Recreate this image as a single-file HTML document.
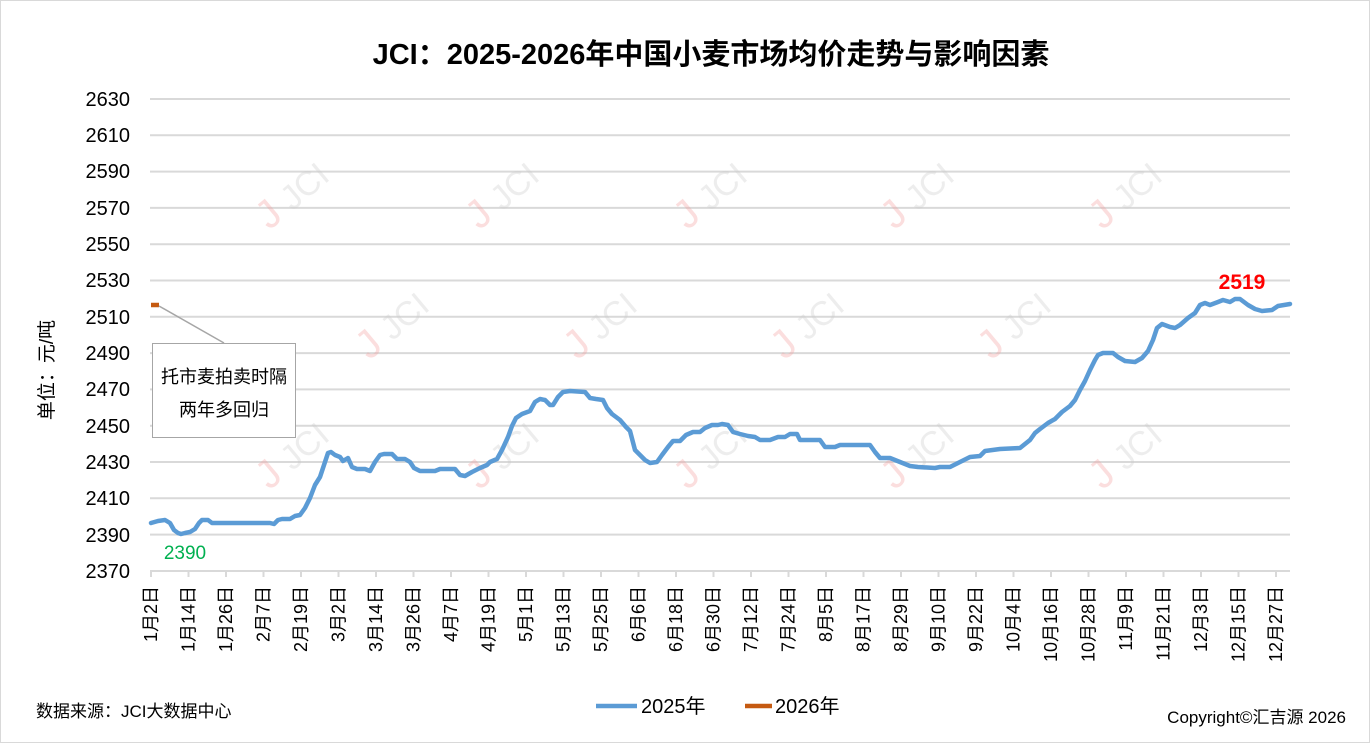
<!DOCTYPE html>
<html><head><meta charset="utf-8"><style>
body{margin:0;background:#fff;}
svg text{font-family:"Liberation Sans","Noto Sans CJK SC",sans-serif;}
</style></head><body>
<svg width="1370" height="743" xmlns="http://www.w3.org/2000/svg">
<rect x="0.5" y="0.5" width="1369" height="742" fill="#fff" stroke="#d9d9d9"/>
<text x="711" y="64" font-size="29" font-weight="bold" text-anchor="middle" fill="#000">JCI：2025-2026年中国小麦市场均价走势与影响因素</text>
<g stroke="#d9d9d9" stroke-width="2">
<line x1="150" x2="1290" y1="99" y2="99"/><line x1="150" x2="1290" y1="135.3" y2="135.3"/><line x1="150" x2="1290" y1="171.6" y2="171.6"/><line x1="150" x2="1290" y1="207.9" y2="207.9"/><line x1="150" x2="1290" y1="244.2" y2="244.2"/><line x1="150" x2="1290" y1="280.5" y2="280.5"/><line x1="150" x2="1290" y1="316.8" y2="316.8"/><line x1="150" x2="1290" y1="353.1" y2="353.1"/><line x1="150" x2="1290" y1="389.4" y2="389.4"/><line x1="150" x2="1290" y1="425.7" y2="425.7"/><line x1="150" x2="1290" y1="462" y2="462"/><line x1="150" x2="1290" y1="498.3" y2="498.3"/><line x1="150" x2="1290" y1="534.6" y2="534.6"/><line x1="150" x2="1290" y1="571" y2="571"/>
</g>
<g font-size="20" text-anchor="end" fill="#000">
<text x="130" y="106">2630</text><text x="130" y="142">2610</text><text x="130" y="178">2590</text><text x="130" y="215">2570</text><text x="130" y="251">2550</text><text x="130" y="287">2530</text><text x="130" y="324">2510</text><text x="130" y="360">2490</text><text x="130" y="396">2470</text><text x="130" y="433">2450</text><text x="130" y="469">2430</text><text x="130" y="505">2410</text><text x="130" y="542">2390</text><text x="130" y="578">2370</text>
</g>
<text transform="translate(53,370) rotate(-90)" font-size="19" text-anchor="middle">单位：元/吨</text>
<g font-size="40" fill="none" opacity="0.35">
<g transform="translate(300,205) rotate(-40)"><text fill="#f4a0a0" x="-40" y="0">J</text><text fill="#ccc" x="-10" y="0" font-size="34">JCI</text></g>
<g transform="translate(510,205) rotate(-40)"><text fill="#f4a0a0" x="-40" y="0">J</text><text fill="#ccc" x="-10" y="0" font-size="34">JCI</text></g>
<g transform="translate(718,205) rotate(-40)"><text fill="#f4a0a0" x="-40" y="0">J</text><text fill="#ccc" x="-10" y="0" font-size="34">JCI</text></g>
<g transform="translate(925,205) rotate(-40)"><text fill="#f4a0a0" x="-40" y="0">J</text><text fill="#ccc" x="-10" y="0" font-size="34">JCI</text></g>
<g transform="translate(1133,205) rotate(-40)"><text fill="#f4a0a0" x="-40" y="0">J</text><text fill="#ccc" x="-10" y="0" font-size="34">JCI</text></g>
<g transform="translate(400,335) rotate(-40)"><text fill="#f4a0a0" x="-40" y="0">J</text><text fill="#ccc" x="-10" y="0" font-size="34">JCI</text></g>
<g transform="translate(608,335) rotate(-40)"><text fill="#f4a0a0" x="-40" y="0">J</text><text fill="#ccc" x="-10" y="0" font-size="34">JCI</text></g>
<g transform="translate(815,335) rotate(-40)"><text fill="#f4a0a0" x="-40" y="0">J</text><text fill="#ccc" x="-10" y="0" font-size="34">JCI</text></g>
<g transform="translate(1022,335) rotate(-40)"><text fill="#f4a0a0" x="-40" y="0">J</text><text fill="#ccc" x="-10" y="0" font-size="34">JCI</text></g>
<g transform="translate(300,465) rotate(-40)"><text fill="#f4a0a0" x="-40" y="0">J</text><text fill="#ccc" x="-10" y="0" font-size="34">JCI</text></g>
<g transform="translate(510,465) rotate(-40)"><text fill="#f4a0a0" x="-40" y="0">J</text><text fill="#ccc" x="-10" y="0" font-size="34">JCI</text></g>
<g transform="translate(718,465) rotate(-40)"><text fill="#f4a0a0" x="-40" y="0">J</text><text fill="#ccc" x="-10" y="0" font-size="34">JCI</text></g>
<g transform="translate(925,465) rotate(-40)"><text fill="#f4a0a0" x="-40" y="0">J</text><text fill="#ccc" x="-10" y="0" font-size="34">JCI</text></g>
<g transform="translate(1133,465) rotate(-40)"><text fill="#f4a0a0" x="-40" y="0">J</text><text fill="#ccc" x="-10" y="0" font-size="34">JCI</text></g>
</g>
<g stroke="#d9d9d9" stroke-width="2">
<line x1="151" x2="151" y1="571" y2="577"/><line x1="188.5" x2="188.5" y1="571" y2="577"/><line x1="226" x2="226" y1="571" y2="577"/><line x1="263.5" x2="263.5" y1="571" y2="577"/><line x1="301" x2="301" y1="571" y2="577"/><line x1="338.5" x2="338.5" y1="571" y2="577"/><line x1="376" x2="376" y1="571" y2="577"/><line x1="413.5" x2="413.5" y1="571" y2="577"/><line x1="451" x2="451" y1="571" y2="577"/><line x1="488.5" x2="488.5" y1="571" y2="577"/><line x1="526" x2="526" y1="571" y2="577"/><line x1="563.5" x2="563.5" y1="571" y2="577"/><line x1="601" x2="601" y1="571" y2="577"/><line x1="638.5" x2="638.5" y1="571" y2="577"/><line x1="676" x2="676" y1="571" y2="577"/><line x1="713.5" x2="713.5" y1="571" y2="577"/><line x1="751" x2="751" y1="571" y2="577"/><line x1="788.5" x2="788.5" y1="571" y2="577"/><line x1="826" x2="826" y1="571" y2="577"/><line x1="863.5" x2="863.5" y1="571" y2="577"/><line x1="901" x2="901" y1="571" y2="577"/><line x1="938.5" x2="938.5" y1="571" y2="577"/><line x1="976" x2="976" y1="571" y2="577"/><line x1="1013.5" x2="1013.5" y1="571" y2="577"/><line x1="1051" x2="1051" y1="571" y2="577"/><line x1="1088.5" x2="1088.5" y1="571" y2="577"/><line x1="1126" x2="1126" y1="571" y2="577"/><line x1="1163.5" x2="1163.5" y1="571" y2="577"/><line x1="1201" x2="1201" y1="571" y2="577"/><line x1="1238.5" x2="1238.5" y1="571" y2="577"/><line x1="1276" x2="1276" y1="571" y2="577"/>
</g>
<g font-size="18" text-anchor="end" fill="#000">
<text transform="translate(157,586) rotate(-90)">1月2日</text>
<text transform="translate(194.5,586) rotate(-90)">1月14日</text>
<text transform="translate(232,586) rotate(-90)">1月26日</text>
<text transform="translate(269.5,586) rotate(-90)">2月7日</text>
<text transform="translate(307,586) rotate(-90)">2月19日</text>
<text transform="translate(344.5,586) rotate(-90)">3月2日</text>
<text transform="translate(382,586) rotate(-90)">3月14日</text>
<text transform="translate(419.5,586) rotate(-90)">3月26日</text>
<text transform="translate(457,586) rotate(-90)">4月7日</text>
<text transform="translate(494.5,586) rotate(-90)">4月19日</text>
<text transform="translate(532,586) rotate(-90)">5月1日</text>
<text transform="translate(569.5,586) rotate(-90)">5月13日</text>
<text transform="translate(607,586) rotate(-90)">5月25日</text>
<text transform="translate(644.5,586) rotate(-90)">6月6日</text>
<text transform="translate(682,586) rotate(-90)">6月18日</text>
<text transform="translate(719.5,586) rotate(-90)">6月30日</text>
<text transform="translate(757,586) rotate(-90)">7月12日</text>
<text transform="translate(794.5,586) rotate(-90)">7月24日</text>
<text transform="translate(832,586) rotate(-90)">8月5日</text>
<text transform="translate(869.5,586) rotate(-90)">8月17日</text>
<text transform="translate(907,586) rotate(-90)">8月29日</text>
<text transform="translate(944.5,586) rotate(-90)">9月10日</text>
<text transform="translate(982,586) rotate(-90)">9月22日</text>
<text transform="translate(1019.5,586) rotate(-90)">10月4日</text>
<text transform="translate(1057,586) rotate(-90)">10月16日</text>
<text transform="translate(1094.5,586) rotate(-90)">10月28日</text>
<text transform="translate(1132,586) rotate(-90)">11月9日</text>
<text transform="translate(1169.5,586) rotate(-90)">11月21日</text>
<text transform="translate(1207,586) rotate(-90)">12月3日</text>
<text transform="translate(1244.5,586) rotate(-90)">12月15日</text>
<text transform="translate(1282,586) rotate(-90)">12月27日</text>
</g>
<polyline fill="none" stroke="#5b9bd5" stroke-width="4.5" stroke-linejoin="round" stroke-linecap="round" points="151,523 158,521 165,520 170,523 174,530 178,533 181,534 185,533 190,532 195,529 199,523 202,520 208,520 212,523 220,523 240,523 270,523 274,524 278,520 282,519 290,519 295,516 300,515 305,508 310,498 315,485 320,477 324,465 328,453 331,452 335,455 340,457 343,461 348,458 352,467 357,469 365,469 370,471 375,462 380,455 384,454 392,454 397,459 405,459 410,462 414,468 420,471 435,471 440,469 455,469 460,475 465,476 472,472 480,468 487,465 490,462 497,459 502,450 508,437 512,426 516,418 522,414 530,411 535,402 540,399 545,400 550,405 553,405 558,397 563,392 570,391 585,392 590,398 596,399 603,400 607,408 612,414 620,420 626,427 630,431 635,450 640,455 645,460 650,463 657,462 662,455 668,447 673,441 680,441 686,435 693,432 700,432 705,428 712,425 718,425 722,424 728,425 733,432 740,434 748,436 755,437 760,440 770,440 778,437 785,437 790,434 797,434 800,440 820,440 825,447 835,447 840,445 870,445 875,452 880,458 890,458 900,462 910,466 918,467 935,468 940,467 950,467 960,462 970,457 980,456 985,451 1000,449 1020,448 1030,440 1035,433 1040,429 1048,423 1055,419 1062,412 1070,406 1075,400 1080,390 1085,381 1090,370 1095,360 1098,355 1103,353 1113,353 1118,357 1125,361 1135,362 1142,358 1148,351 1153,340 1157,328 1162,324 1170,327 1175,328 1180,325 1188,318 1195,313 1200,305 1205,303 1210,305 1218,302 1223,300 1230,302 1235,299 1240,299 1248,305 1255,309 1262,311 1272,310 1278,306 1290,304"/>
<line x1="151" y1="305" x2="159" y2="305" stroke="#c55a11" stroke-width="4.5"/>
<line x1="159" y1="306" x2="224" y2="343" stroke="#a6a6a6" stroke-width="1.5"/>
<rect x="152.5" y="343.5" width="143" height="94" fill="#fff" stroke="#a6a6a6"/>
<text x="224" y="383" font-size="18" text-anchor="middle">托市麦拍卖时隔</text>
<text x="224" y="416" font-size="18" text-anchor="middle">两年多回归</text>
<text x="185" y="559" font-size="19" fill="#00b050" text-anchor="middle">2390</text>
<text x="1242" y="289" font-size="21" font-weight="bold" fill="#ff0000" text-anchor="middle">2519</text>
<line x1="596" y1="706" x2="637" y2="706" stroke="#5b9bd5" stroke-width="4.5"/>
<text x="641" y="713" font-size="20">2025年</text>
<line x1="745" y1="706" x2="772" y2="706" stroke="#c55a11" stroke-width="4.5"/>
<text x="775" y="713" font-size="20">2026年</text>
<text x="36" y="717" font-size="17">数据来源：JCI大数据中心</text>
<text x="1346" y="723" font-size="17" text-anchor="end">Copyright©汇吉源 2026</text>
</svg>
</body></html>
